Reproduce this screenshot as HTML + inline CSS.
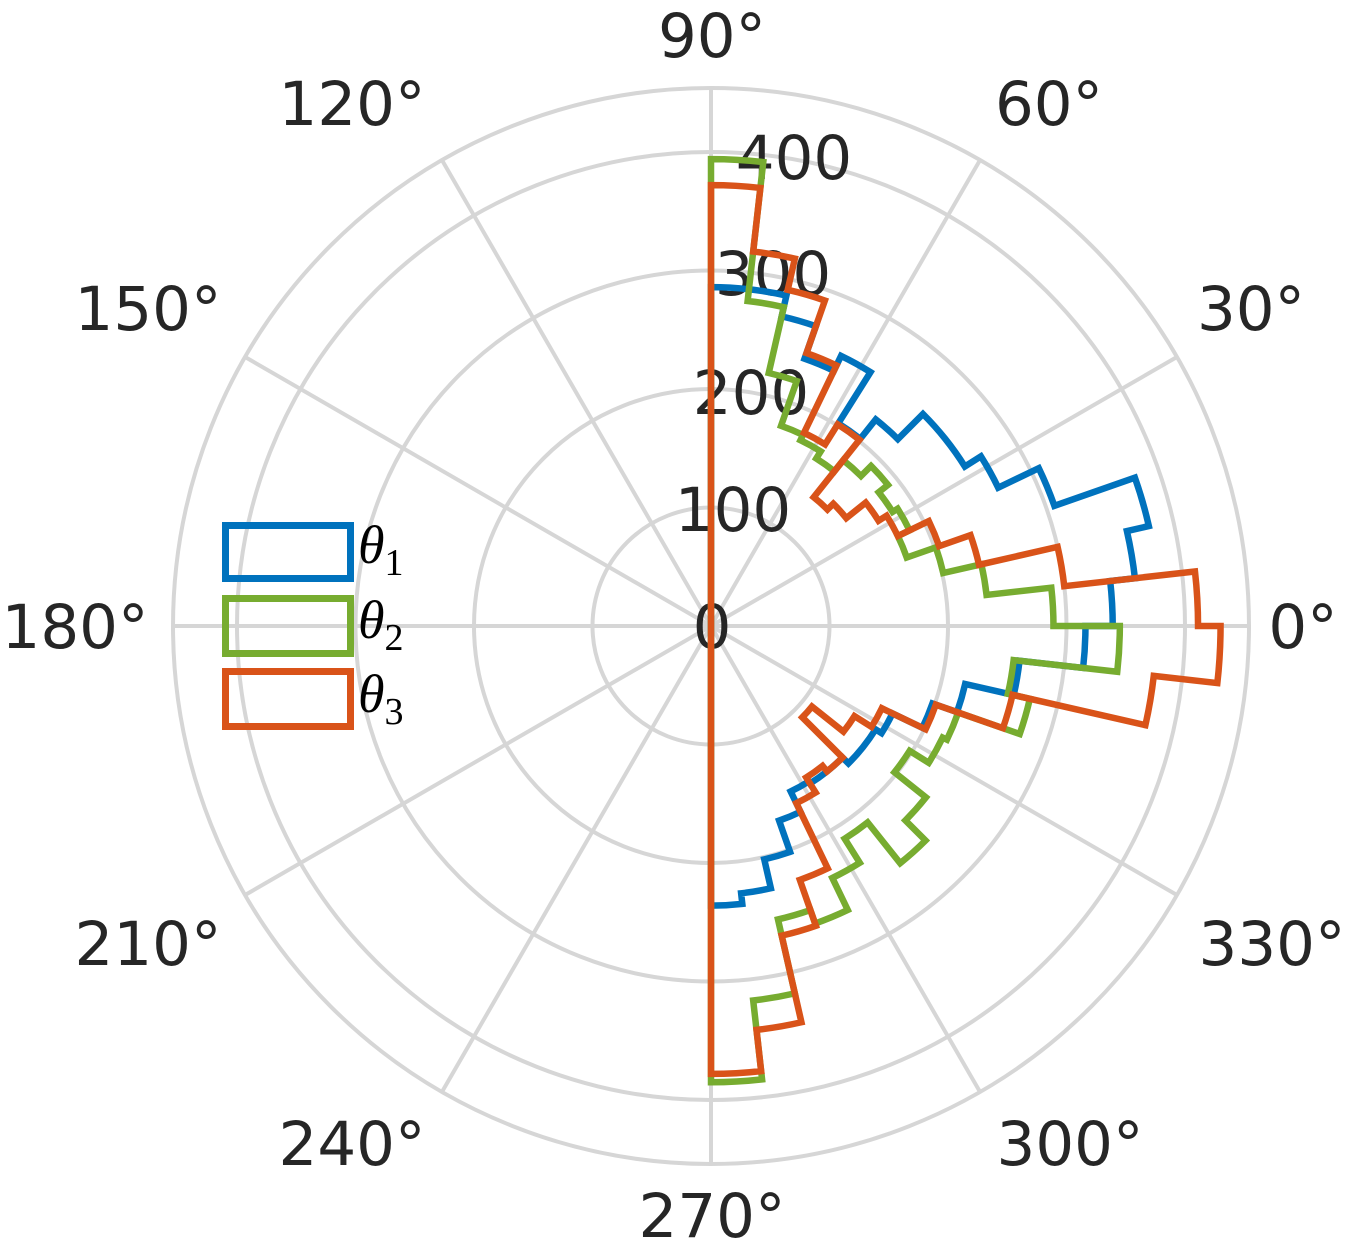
<!DOCTYPE html>
<html><head><meta charset="utf-8"><style>
html,body{margin:0;padding:0;background:#fff;}
svg{display:block;}
</style></head><body>
<svg id="chart" width="1351" height="1246" viewBox="0 0 1351 1246" xmlns="http://www.w3.org/2000/svg">
<g id="grid"></g>
<g id="rlabels"></g>
<g id="alabels"></g>
<g id="series"></g>
<g id="legend">
  <rect x="225.5" y="525.5" width="125" height="53" fill="none" stroke="#0072BD" stroke-width="7"/>
  <rect x="225.5" y="598.5" width="125" height="55" fill="none" stroke="#77AC30" stroke-width="7"/>
  <rect x="225.5" y="671.5" width="125" height="55" fill="none" stroke="#D95319" stroke-width="7"/>
  <text x="358" y="563" font-family="Liberation Serif, serif" font-style="italic" font-size="54" fill="#000">θ<tspan font-style="normal" font-size="38" dy="12">1</tspan></text>
  <text x="358" y="638" font-family="Liberation Serif, serif" font-style="italic" font-size="54" fill="#000">θ<tspan font-style="normal" font-size="38" dy="12">2</tspan></text>
  <text x="358" y="712" font-family="Liberation Serif, serif" font-style="italic" font-size="54" fill="#000">θ<tspan font-style="normal" font-size="38" dy="12">3</tspan></text>
</g>
</svg>
<script>
// 28 equal bins from -90° to 90°
const binCount = 28;
const binStartDeg = -90;
const binEndDeg = 90;
// counts, ordered from -90° to +90°
const theta1Counts = [236,227,202,174,155,157,157,164,164,170,198,220,262,316, 339,360,379,307,269,253,253,223,202,253,239,268,286,286];
const theta2Counts = [385,318,254,266,236,212,256,232,198,217,221,276,257,345, 289,234,201,175,186,181,191,179,167,174,179,219,276,394];
const theta3Counts = [378,343,268,227,166,151,157,109,143,160,201,261,376,430, 411,300,232,204,175,167,146,139,201,181,244,291,318,372];
const radialTicks = [0,100,200,300,400];
const radialTickLabels = ["0","100","200","300","400"];
const angleTicks = [0,30,60,90,120,150,180,210,240,270,300,330];
const angleTickLabels = ["0°","30°","60°","90°","120°","150°","180°","210°","240°","270°","300°","330°"];

const NS = "http://www.w3.org/2000/svg";
const cx = 711, cy = 626;
const pxPerUnit = 1.185;
const rMaxUnits = 454;
function rScale(v){ return v * pxPerUnit; }
function px(r, deg){ return cx + r*Math.cos(deg*Math.PI/180); }
function py(r, deg){ return cy - r*Math.sin(deg*Math.PI/180); }

const grid = document.getElementById('grid');
const rings = radialTicks.filter(v=>v>0).concat([rMaxUnits]);
rings.forEach(v=>{
  const c = document.createElementNS(NS,'circle');
  c.setAttribute('cx',cx); c.setAttribute('cy',cy); c.setAttribute('r',rScale(v));
  c.setAttribute('fill','none'); c.setAttribute('stroke','#d6d6d6'); c.setAttribute('stroke-width','4');
  
  
  grid.appendChild(c);
});
angleTicks.forEach(a=>{
  const l = document.createElementNS(NS,'line');
  l.setAttribute('x1',cx); l.setAttribute('y1',cy);
  l.setAttribute('x2',px(rScale(rMaxUnits),a)); l.setAttribute('y2',py(rScale(rMaxUnits),a));
  l.setAttribute('stroke','#d6d6d6'); l.setAttribute('stroke-width','4');
  
  
  grid.appendChild(l);
});

const series = [
  {counts: theta1Counts, color:'#0072BD', name:'series-theta1'},
  {counts: theta2Counts, color:'#77AC30', name:'series-theta2'},
  {counts: theta3Counts, color:'#D95319', name:'series-theta3'}
];
const sg = document.getElementById('series');
const w = (binEndDeg - binStartDeg)/binCount;
series.forEach(s=>{
  let d = `M${cx},${cy}`;
  for(let i=0;i<binCount;i++){
    const a1 = binStartDeg + i*w, a2 = a1 + w;
    const r = rScale(s.counts[i]);
    d += ` L${px(r,a1).toFixed(2)},${py(r,a1).toFixed(2)}`;
    d += ` A${r.toFixed(2)},${r.toFixed(2)} 0 0 0 ${px(r,a2).toFixed(2)},${py(r,a2).toFixed(2)}`;
  }
  d += ` L${cx},${cy}`;
  const p = document.createElementNS(NS,'path');
  p.setAttribute('d',d); p.setAttribute('fill','none'); p.setAttribute('stroke',s.color);
  p.setAttribute('stroke-width','6.5'); p.setAttribute('stroke-linejoin','miter');
  
  
  sg.appendChild(p);
});

const rl = document.getElementById('rlabels');
const rLabelPos = [[712,648],[733,531],[751,414],[773,295],[794,179]];
radialTicks.forEach((v,i)=>{
  const t = document.createElementNS(NS,'text');
  t.setAttribute('x', rLabelPos[i][0]); t.setAttribute('y', rLabelPos[i][1]);
  t.setAttribute('text-anchor','middle'); t.setAttribute('font-family','DejaVu Sans, Liberation Sans, sans-serif');
  t.setAttribute('font-size','61'); t.setAttribute('fill','#262626');
  t.textContent = radialTickLabels[i];
  
  
  rl.appendChild(t);
});
const al = document.getElementById('alabels');
const aLabelPos = {0:[1303,648],30:[1251,330],60:[1049,125],90:[712,57],120:[352,125],150:[148,330],180:[75,648],210:[148,965],240:[352,1165],270:[712,1237],300:[1070,1165],330:[1272,965]};
angleTicks.forEach((a,i)=>{
  const t = document.createElementNS(NS,'text');
  t.setAttribute('x', aLabelPos[a][0]); t.setAttribute('y', aLabelPos[a][1]);
  t.setAttribute('text-anchor','middle'); t.setAttribute('font-family','DejaVu Sans, Liberation Sans, sans-serif');
  t.setAttribute('font-size','61'); t.setAttribute('fill','#262626');
  t.textContent = angleTickLabels[i];
  
  
  al.appendChild(t);
});
</script>
</body></html>
